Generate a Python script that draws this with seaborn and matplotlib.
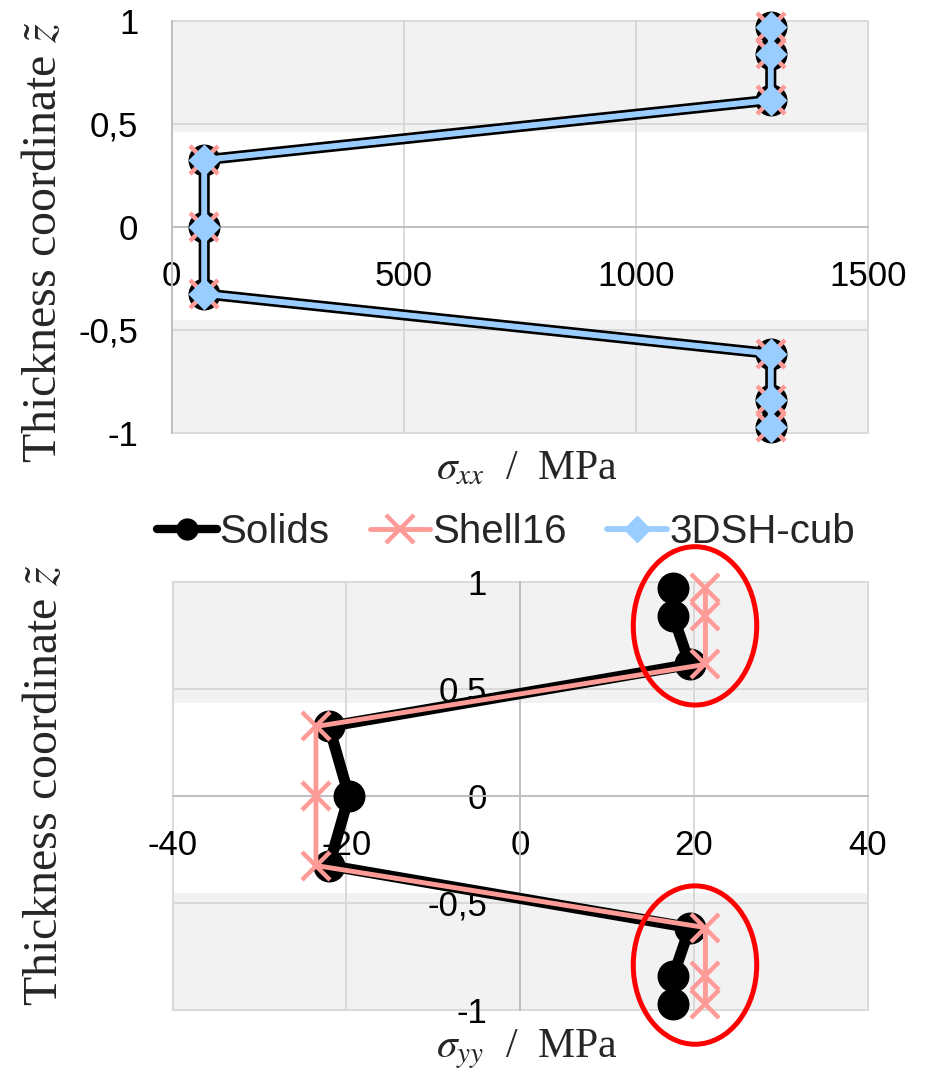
import matplotlib
matplotlib.use("Agg")
import matplotlib.pyplot as plt
import seaborn as sns
import pandas as pd
from matplotlib.patches import Ellipse
from matplotlib.lines import Line2D

# ---------------- data ----------------
z = [0.97, 0.84, 0.615, 0.325, 0.0, -0.325, -0.615, -0.84, -0.97]

sxx_solids = [1290, 1290, 1290, 70, 70, 70, 1290, 1290, 1290]
sxx_shell16 = [1290, 1290, 1290, 70, 70, 70, 1290, 1290, 1290]
sxx_3dsh = [1290, 1290, 1290, 70, 70, 70, 1290, 1290, 1290]

syy_solids = [17.6, 17.6, 19.5, -22.0, -19.7, -22.0, 19.5, 17.6, 17.6]
syy_shell16 = [21.3, 21.3, 21.3, -23.5, -23.5, -23.5, 21.3, 21.3, 21.3]

series_names = ["Solids", "Shell16", "3DSH-cub"]
xticks_top = [0, 500, 1000, 1500]
xticks_bot = [-40, -20, 0, 20, 40]
yticks = [-1, -0.5, 0, 0.5, 1]
ytick_labels = ["-1", "-0,5", "0", "0,5", "1"]

# ---------------- style ----------------
sns.set_theme(style="white")
plt.rcParams["font.family"] = ["Liberation Sans", "DejaVu Sans"]
plt.rcParams["mathtext.fontset"] = "stix"
plt.rcParams["axes.unicode_minus"] = False

C_SOL = "#000000"
C_SH = "#FF9B96"
C_3D = "#99CCFF"
BAND = "#F2F2F2"
GRID = "#D9D9D9"
AXLINE = "#C0C0C0"
SERIF = ["Liberation Serif", "DejaVu Serif"]

sol_kw = dict(color=C_SOL, lw=8, marker="o", markersize=22,
              markerfacecolor=C_SOL, markeredgecolor=C_SOL, markeredgewidth=1,
              clip_on=False)
sh_kw = dict(color=C_SH, lw=3.5, marker="x", markersize=20,
             markeredgecolor=C_SH, markeredgewidth=3.2, clip_on=False)
d3_kw = dict(color=C_3D, lw=4.2, marker="D", markersize=15,
             markerfacecolor=C_3D, markeredgecolor=C_3D, markeredgewidth=1,
             clip_on=False)

fig = plt.figure(figsize=(9.34, 10.75), dpi=100)
W, H = 934, 1075
ax1 = fig.add_axes([171.7 / W, 1 - 433.0 / H, 696.6 / W, 412.3 / H])
ax2 = fig.add_axes([172.5 / W, 1 - 1010.0 / H, 695.5 / W, 428.0 / H])


def style_axes(ax, xlim, xticks, bands):
    ax.set_xlim(xlim)
    ax.set_ylim(-1, 1)
    for lo, hi in bands:
        ax.axhspan(lo, hi, color=BAND, zorder=0, lw=0)
    ax.set_xticks(xticks)
    ax.set_xticklabels([str(t) for t in xticks])
    ax.set_yticks(yticks)
    ax.set_yticklabels(ytick_labels)
    ax.set_axisbelow(True)
    ax.grid(True, color=GRID, lw=1.4, clip_on=False)
    for s in ["top", "right"]:
        ax.spines[s].set_visible(False)
    for s in ["left", "bottom"]:
        ax.spines[s].set_position(("data", 0))
        ax.spines[s].set_color(AXLINE)
        ax.spines[s].set_linewidth(1.4)
        ax.spines[s].set_zorder(0.8)
    ax.tick_params(length=0, pad=24, labelsize=25, colors="black")
    for lab in ax.get_xticklabels() + ax.get_yticklabels():
        lab.set_fontfamily(["Liberation Sans", "DejaVu Sans"])
    ax.set_facecolor("white")


def draw(ax, x, kw, zo):
    df = pd.DataFrame({"x": x, "z": z})
    sns.lineplot(data=df, x="x", y="z", sort=False, estimator=None,
                 ax=ax, legend=False, zorder=zo, **kw)


# ---------------- top panel ----------------
style_axes(ax1, (0, 1500), xticks_top, [(0.462, 1.0), (-1.0, -0.451)])
draw(ax1, sxx_solids, sol_kw, 3)
draw(ax1, sxx_shell16, sh_kw, 4)
draw(ax1, sxx_3dsh, d3_kw, 5)
ax1.set_xlabel(r"$\sigma_{xx}$  /  MPa", fontsize=30, family=SERIF)
ax1.xaxis.set_label_coords(0.51, -0.04)
ax1.set_ylabel(r"Thickness coordinate $\tilde{z}$", fontsize=34.5, family=SERIF)
ax1.yaxis.set_label_coords(-0.152, 0.463)

# ---------------- bottom panel ----------------
style_axes(ax2, (-40, 40), xticks_bot, [(0.436, 1.0), (-1.0, -0.452)])
draw(ax2, syy_solids, sol_kw, 3)
draw(ax2, syy_shell16, sh_kw, 4)
ax2.set_xlabel(r"$\sigma_{yy}$  /  MPa", fontsize=30, family=SERIF)
ax2.xaxis.set_label_coords(0.51, -0.04)
ax2.set_ylabel(r"Thickness coordinate $\tilde{z}$", fontsize=34.5, family=SERIF)
ax2.yaxis.set_label_coords(-0.152, 0.526)

# red highlight ellipses
for cy in (0.795, -0.79):
    ax2.add_patch(Ellipse((20.1, cy), 14.2, 0.74, fill=False, ec="#FF0000",
                          lw=3.6, zorder=6, clip_on=False))

# ---------------- legend ----------------
handles = [
    Line2D([], [], **{**sol_kw, "markersize": 15, "lw": 6}),
    Line2D([], [], **sh_kw),
    Line2D([], [], **{**d3_kw, "markersize": 13}),
]
fig.legend(handles, series_names, loc="center", ncol=3, frameon=False,
           bbox_to_anchor=(506 / W, 1 - 532 / H), fontsize=29,
           handlelength=1.5, handletextpad=0.05, columnspacing=1.0,
           borderaxespad=0, borderpad=0)

fig.savefig("out.png", dpi=100)
